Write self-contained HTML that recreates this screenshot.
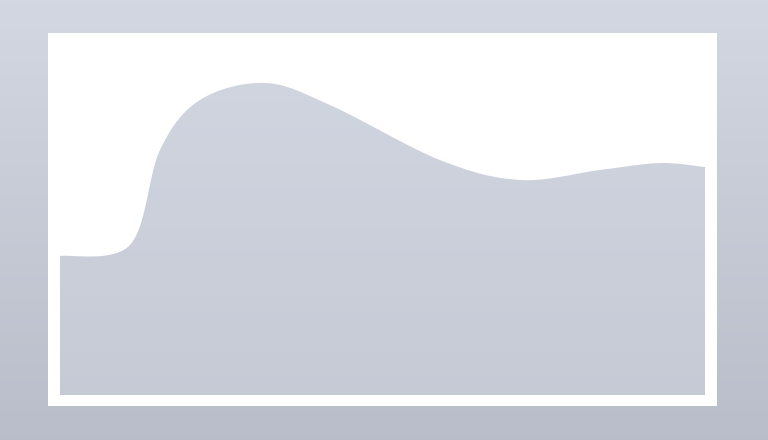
<!DOCTYPE html>
<html><head><meta charset="utf-8"><style>
html,body{margin:0;padding:0;width:768px;height:440px;overflow:hidden;background:#c8ccd6;font-family:"Liberation Sans",sans-serif}
</style></head><body>
<svg id="chart" width="768" height="440" viewBox="0 0 768 440">
<defs>
<linearGradient id="frame" x1="0" y1="0" x2="0" y2="1">
<stop offset="0" stop-color="#d3d7e1"/><stop offset="1" stop-color="#b9bdc9"/>
</linearGradient>
<linearGradient id="fill" x1="0" y1="0" x2="0" y2="1">
<stop offset="0" stop-color="#d0d4df"/><stop offset="1" stop-color="#c6cad5"/>
</linearGradient>
</defs>
<rect x="0" y="0" width="768" height="440" fill="url(#frame)"/>
<rect x="48" y="33" width="669" height="373" fill="#ffffff"/>
<g id="series"></g>
</svg>
<script>
const xs = [0, 70, 100, 140, 205, 270, 380, 460, 540, 600, 645];
const values = [139, 150, 245, 295, 312, 290, 235, 215, 225, 232, 228];
const x0 = 60, plotW = 645, yBase = 395, yScale = 1;
function sx(v){return x0 + v * plotW / 645;}
function sy(v){return yBase - v * yScale;}
const pts = xs.map((x,i)=>[sx(x), sy(values[i])]);
let d = `M${pts[0][0]},${sy(0)} L${pts[0][0]},${pts[0][1]}`;
for(let i=0;i<pts.length-1;i++){
  const p0=pts[Math.max(0,i-1)],p1=pts[i],p2=pts[i+1],p3=pts[Math.min(pts.length-1,i+2)];
  const c1=[p1[0]+(p2[0]-p0[0])/6,p1[1]+(p2[1]-p0[1])/6];
  const c2=[p2[0]-(p3[0]-p1[0])/6,p2[1]-(p3[1]-p1[1])/6];
  d+=` C${c1[0]},${c1[1]} ${c2[0]},${c2[1]} ${p2[0]},${p2[1]}`;
}
d+=` L${pts[pts.length-1][0]},${sy(0)} Z`;
const path=document.createElementNS("http://www.w3.org/2000/svg","path");
path.setAttribute("d",d);
path.setAttribute("fill","url(#fill)");


document.getElementById("series").appendChild(path);
</script>
</body></html>
